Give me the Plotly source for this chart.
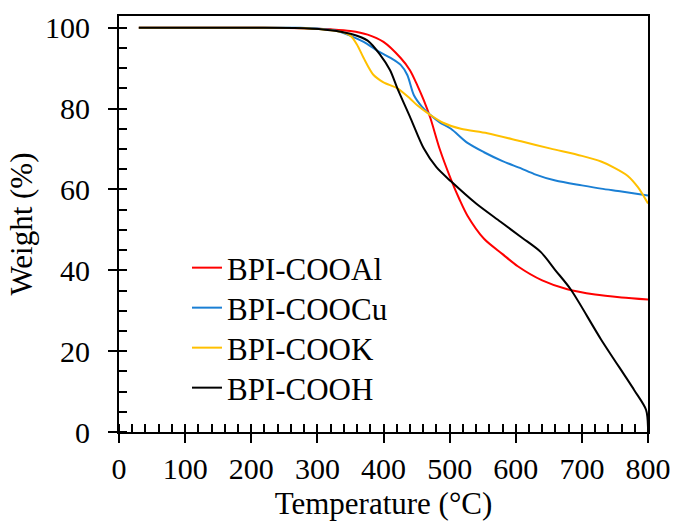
import plotly.graph_objects as go

# Data
t_al = [30, 100, 200, 280, 320, 350, 376, 400, 426, 440, 451, 461, 471, 485, 502, 515, 527, 552, 580, 603, 640, 678, 720, 760, 800]
w_al = [100, 100, 100, 99.9, 99.6, 99.2, 98.3, 96.5, 92.5, 89.5, 85.8, 82, 77.6, 70, 62.5, 57.5, 53.5, 47.8, 44, 41, 37.5, 35.3, 34, 33.3, 32.8]

t_cu = [30, 100, 200, 274, 300, 330, 350, 370, 391, 410, 426, 436, 446, 458, 471, 485, 502, 527, 552, 580, 608, 628, 660, 700, 729, 760, 800]
w_cu = [100, 100, 100, 100, 99.8, 99.2, 98, 96.5, 94.3, 92.6, 90.8, 88.3, 83.3, 80.5, 78.4, 76.6, 75, 71.5, 69.2, 67, 65.2, 63.8, 62.2, 61, 60.2, 59.5, 58.5]

t_k = [30, 100, 200, 280, 320, 340, 350, 360, 370, 385, 400, 421, 440, 451, 471, 490, 517, 557, 608, 653, 700, 729, 750, 769, 785, 800]
w_k = [100, 100, 100, 99.9, 99.4, 98.8, 98, 95.8, 92.5, 88.3, 86.5, 85, 82.5, 80.8, 78.4, 76.5, 75, 73.9, 71.9, 70.1, 68.3, 66.9, 65.3, 63.4, 60.5, 56.5]

t_h = [30, 100, 200, 280, 320, 350, 376, 395, 410, 421, 441, 461, 480, 502, 540, 577, 610, 638, 660, 683, 729, 779, 797, 800]
w_h = [100, 100, 100, 99.9, 99.4, 98.5, 96.8, 93.3, 89.5, 85, 77.6, 70.1, 65.5, 62, 56.5, 52, 48, 44.5, 40, 35.3, 22.9, 10.4, 5.5, 1.2]

names = ["BPI-COOAl", "BPI-COOCu", "BPI-COOK", "BPI-COOH"]
colors = ["#FF0000", "#1A7FD4", "#FFC000", "#000000"]
series = [(t_al, w_al), (t_cu, w_cu), (t_k, w_k), (t_h, w_h)]

x_ticks = [0, 100, 200, 300, 400, 500, 600, 700, 800]
y_ticks = [0, 20, 40, 60, 80, 100]

FONT = "Liberation Serif"

legend_ids = ["legend", "legend2", "legend3", "legend4"]

fig = go.Figure()
for (tx, wy), nm, c, lg in zip(series, names, colors, legend_ids):
    fig.add_trace(go.Scatter(x=tx, y=wy, name=nm, mode="lines", legend=lg,
                             line=dict(color=c, width=2, shape="spline", smoothing=0.8)))

axis_common = dict(showgrid=False, zeroline=False, showline=True, linecolor="black",
                   linewidth=2, tickcolor="black", tickwidth=2, ticklen=9, automargin=False,
                   tickfont=dict(family=FONT, size=30, color="black"))

plot_top, plot_bottom = 16, 432
legend_layouts = {}
for i, lg in enumerate(legend_ids):
    ypx = 268 + 40 * i
    legend_layouts[lg] = dict(x=0.1285, y=(plot_bottom - ypx) / (plot_bottom - plot_top),
                              xanchor="left", yanchor="middle",
                              bgcolor="rgba(0,0,0,0)", font=dict(family=FONT, size=31),
                              itemwidth=30)

fig.update_layout(
    width=674, height=524,
    margin=dict(l=119, r=26, t=16, b=92),
    paper_bgcolor="white", plot_bgcolor="white",
    font=dict(family=FONT, size=30, color="black"),
    xaxis=dict(range=[0, 800], tickvals=x_ticks, ticks="outside", mirror=True,
               minor=dict(ticks="inside", dtick=20, ticklen=8, tickwidth=1.5, tickcolor="black"),
               title=dict(text="Temperature (°C)", font=dict(family=FONT, size=31), standoff=8),
               **axis_common),
    yaxis=dict(range=[0, 102.9], tickvals=y_ticks, ticks="outside", mirror=True,
               minor=dict(ticks="inside", dtick=5, ticklen=8, tickwidth=1.5, tickcolor="black"),
               title=dict(text="Weight (%)", font=dict(family=FONT, size=31), standoff=3),
               ticklabelstandoff=12,
               **axis_common),
    xaxis2=dict(range=[0, 800], overlaying="x", anchor="y", side="bottom",
                tickvals=x_ticks, ticks="inside", showticklabels=False,
                showgrid=False, zeroline=False, showline=False,
                tickcolor="black", tickwidth=2, ticklen=9),
    yaxis2=dict(range=[0, 102.9], overlaying="y", anchor="x", side="left",
                tickvals=y_ticks, ticks="inside", showticklabels=False,
                showgrid=False, zeroline=False, showline=False,
                tickcolor="black", tickwidth=2, ticklen=9),
    showlegend=True,
    **legend_layouts,
)

fig.write_html("out.html")
